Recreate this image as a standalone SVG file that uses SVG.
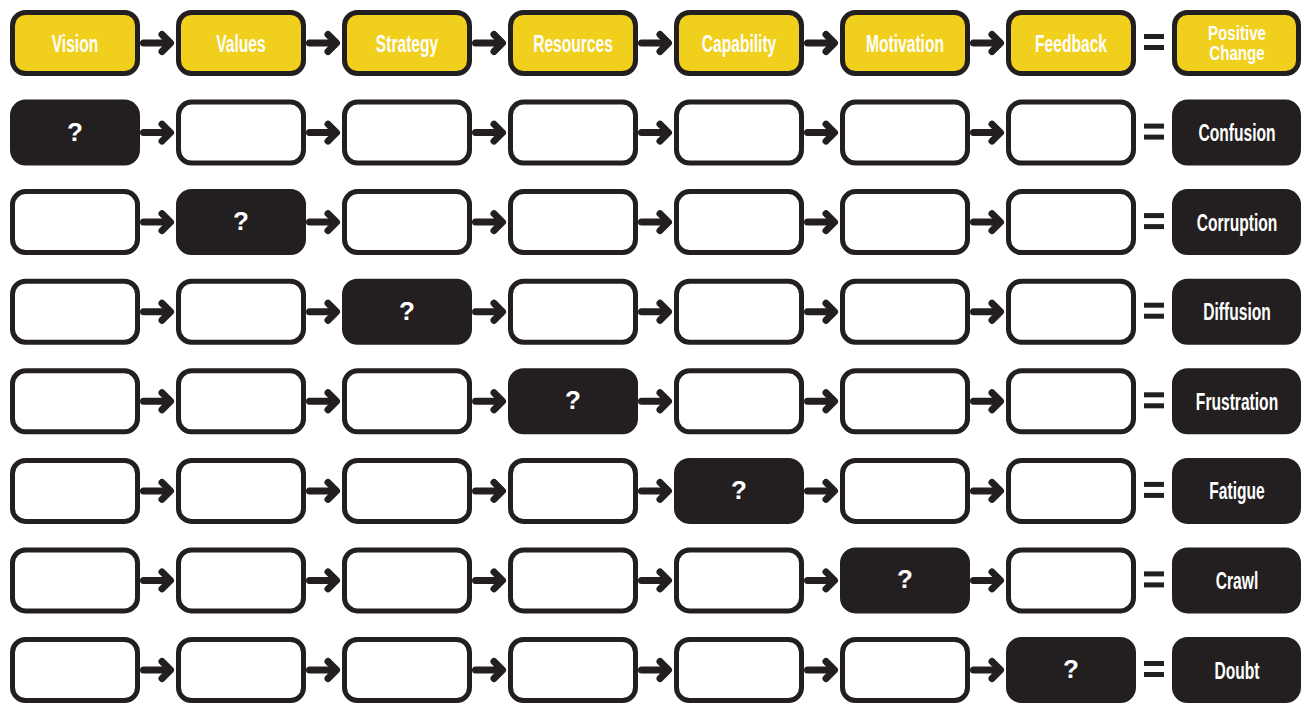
<svg xmlns="http://www.w3.org/2000/svg" xmlns:xlink="http://www.w3.org/1999/xlink" width="1301" height="703" viewBox="0 0 1301 703">
<style>
.box{fill:#fff;stroke:#231F20;stroke-width:5}
.y{fill:#F1CF1D}
.k{fill:#231F20}
.lbl{font-family:"Liberation Sans",Arial,sans-serif;font-weight:bold;font-size:24px;fill:#fff;text-anchor:middle}
.l2{font-size:21px}
.q{font-family:"Liberation Sans",Arial,sans-serif;font-weight:900;font-size:26px;fill:#fff;text-anchor:middle}
</style>
<defs>
<g id="arr" fill="none" stroke="#231F20" stroke-width="7" stroke-linecap="round" stroke-linejoin="round">
<path d="M3.5 0H28"/>
<path d="M22 -8.5L30.5 0L22 8.5"/>
</g>
<g id="eq" fill="#231F20">
<rect x="0" y="-9" width="20" height="5"/>
<rect x="0" y="2" width="20" height="5"/>
</g>
</defs>
<rect width="1301" height="703" fill="#fff"/>
<!-- Row 0 -->
<g id="row0">
<g id="n0-0" transform="translate(10,10)"><rect class="box y" x="2.5" y="2.5" width="125" height="61" rx="13"/><text class="lbl" transform="translate(65,41.5) scale(0.65,1)">Vision</text></g>
<g id="n0-1" transform="translate(176,10)"><rect class="box y" x="2.5" y="2.5" width="125" height="61" rx="13"/><text class="lbl" transform="translate(65,41.5) scale(0.65,1)">Values</text></g>
<g id="n0-2" transform="translate(342,10)"><rect class="box y" x="2.5" y="2.5" width="125" height="61" rx="13"/><text class="lbl" transform="translate(65,41.5) scale(0.65,1)">Strategy</text></g>
<g id="n0-3" transform="translate(508,10)"><rect class="box y" x="2.5" y="2.5" width="125" height="61" rx="13"/><text class="lbl" transform="translate(65,41.5) scale(0.65,1)">Resources</text></g>
<g id="n0-4" transform="translate(674,10)"><rect class="box y" x="2.5" y="2.5" width="125" height="61" rx="13"/><text class="lbl" transform="translate(65,41.5) scale(0.65,1)">Capability</text></g>
<g id="n0-5" transform="translate(840,10)"><rect class="box y" x="2.5" y="2.5" width="125" height="61" rx="13"/><text class="lbl" transform="translate(65,41.5) scale(0.65,1)">Motivation</text></g>
<g id="n0-6" transform="translate(1006,10)"><rect class="box y" x="2.5" y="2.5" width="125" height="61" rx="13"/><text class="lbl" transform="translate(65,41.5) scale(0.65,1)">Feedback</text></g>
<g id="n0-7" transform="translate(1172,10)"><rect class="box y" x="2.5" y="2.5" width="124" height="61" rx="13"/><text class="lbl l2" transform="translate(65,29.5) scale(0.72,1)">Positive</text><text class="lbl l2" transform="translate(65,50) scale(0.72,1)">Change</text></g>
</g>
<!-- Row 1 -->
<g id="row1">
<g id="n1-0" transform="translate(10,99.6)"><rect class="box k" x="2.5" y="2.5" width="125" height="61" rx="13"/><text class="q" transform="translate(65,41)">?</text></g>
<g id="n1-1" transform="translate(176,99.6)"><rect class="box" x="2.5" y="2.5" width="125" height="61" rx="13"/></g>
<g id="n1-2" transform="translate(342,99.6)"><rect class="box" x="2.5" y="2.5" width="125" height="61" rx="13"/></g>
<g id="n1-3" transform="translate(508,99.6)"><rect class="box" x="2.5" y="2.5" width="125" height="61" rx="13"/></g>
<g id="n1-4" transform="translate(674,99.6)"><rect class="box" x="2.5" y="2.5" width="125" height="61" rx="13"/></g>
<g id="n1-5" transform="translate(840,99.6)"><rect class="box" x="2.5" y="2.5" width="125" height="61" rx="13"/></g>
<g id="n1-6" transform="translate(1006,99.6)"><rect class="box" x="2.5" y="2.5" width="125" height="61" rx="13"/></g>
<g id="n1-7" transform="translate(1172,99.6)"><rect class="box k" x="2.5" y="2.5" width="124" height="61" rx="13"/><text class="lbl" transform="translate(65,41.5) scale(0.65,1)">Confusion</text></g>
</g>
<!-- Row 2 -->
<g id="row2">
<g id="n2-0" transform="translate(10,189.1)"><rect class="box" x="2.5" y="2.5" width="125" height="61" rx="13"/></g>
<g id="n2-1" transform="translate(176,189.1)"><rect class="box k" x="2.5" y="2.5" width="125" height="61" rx="13"/><text class="q" transform="translate(65,41)">?</text></g>
<g id="n2-2" transform="translate(342,189.1)"><rect class="box" x="2.5" y="2.5" width="125" height="61" rx="13"/></g>
<g id="n2-3" transform="translate(508,189.1)"><rect class="box" x="2.5" y="2.5" width="125" height="61" rx="13"/></g>
<g id="n2-4" transform="translate(674,189.1)"><rect class="box" x="2.5" y="2.5" width="125" height="61" rx="13"/></g>
<g id="n2-5" transform="translate(840,189.1)"><rect class="box" x="2.5" y="2.5" width="125" height="61" rx="13"/></g>
<g id="n2-6" transform="translate(1006,189.1)"><rect class="box" x="2.5" y="2.5" width="125" height="61" rx="13"/></g>
<g id="n2-7" transform="translate(1172,189.1)"><rect class="box k" x="2.5" y="2.5" width="124" height="61" rx="13"/><text class="lbl" transform="translate(65,41.5) scale(0.65,1)">Corruption</text></g>
</g>
<!-- Row 3 -->
<g id="row3">
<g id="n3-0" transform="translate(10,278.7)"><rect class="box" x="2.5" y="2.5" width="125" height="61" rx="13"/></g>
<g id="n3-1" transform="translate(176,278.7)"><rect class="box" x="2.5" y="2.5" width="125" height="61" rx="13"/></g>
<g id="n3-2" transform="translate(342,278.7)"><rect class="box k" x="2.5" y="2.5" width="125" height="61" rx="13"/><text class="q" transform="translate(65,41)">?</text></g>
<g id="n3-3" transform="translate(508,278.7)"><rect class="box" x="2.5" y="2.5" width="125" height="61" rx="13"/></g>
<g id="n3-4" transform="translate(674,278.7)"><rect class="box" x="2.5" y="2.5" width="125" height="61" rx="13"/></g>
<g id="n3-5" transform="translate(840,278.7)"><rect class="box" x="2.5" y="2.5" width="125" height="61" rx="13"/></g>
<g id="n3-6" transform="translate(1006,278.7)"><rect class="box" x="2.5" y="2.5" width="125" height="61" rx="13"/></g>
<g id="n3-7" transform="translate(1172,278.7)"><rect class="box k" x="2.5" y="2.5" width="124" height="61" rx="13"/><text class="lbl" transform="translate(65,41.5) scale(0.65,1)">Diffusion</text></g>
</g>
<!-- Row 4 -->
<g id="row4">
<g id="n4-0" transform="translate(10,368.3)"><rect class="box" x="2.5" y="2.5" width="125" height="61" rx="13"/></g>
<g id="n4-1" transform="translate(176,368.3)"><rect class="box" x="2.5" y="2.5" width="125" height="61" rx="13"/></g>
<g id="n4-2" transform="translate(342,368.3)"><rect class="box" x="2.5" y="2.5" width="125" height="61" rx="13"/></g>
<g id="n4-3" transform="translate(508,368.3)"><rect class="box k" x="2.5" y="2.5" width="125" height="61" rx="13"/><text class="q" transform="translate(65,41)">?</text></g>
<g id="n4-4" transform="translate(674,368.3)"><rect class="box" x="2.5" y="2.5" width="125" height="61" rx="13"/></g>
<g id="n4-5" transform="translate(840,368.3)"><rect class="box" x="2.5" y="2.5" width="125" height="61" rx="13"/></g>
<g id="n4-6" transform="translate(1006,368.3)"><rect class="box" x="2.5" y="2.5" width="125" height="61" rx="13"/></g>
<g id="n4-7" transform="translate(1172,368.3)"><rect class="box k" x="2.5" y="2.5" width="124" height="61" rx="13"/><text class="lbl" transform="translate(65,41.5) scale(0.65,1)">Frustration</text></g>
</g>
<!-- Row 5 -->
<g id="row5">
<g id="n5-0" transform="translate(10,457.9)"><rect class="box" x="2.5" y="2.5" width="125" height="61" rx="13"/></g>
<g id="n5-1" transform="translate(176,457.9)"><rect class="box" x="2.5" y="2.5" width="125" height="61" rx="13"/></g>
<g id="n5-2" transform="translate(342,457.9)"><rect class="box" x="2.5" y="2.5" width="125" height="61" rx="13"/></g>
<g id="n5-3" transform="translate(508,457.9)"><rect class="box" x="2.5" y="2.5" width="125" height="61" rx="13"/></g>
<g id="n5-4" transform="translate(674,457.9)"><rect class="box k" x="2.5" y="2.5" width="125" height="61" rx="13"/><text class="q" transform="translate(65,41)">?</text></g>
<g id="n5-5" transform="translate(840,457.9)"><rect class="box" x="2.5" y="2.5" width="125" height="61" rx="13"/></g>
<g id="n5-6" transform="translate(1006,457.9)"><rect class="box" x="2.5" y="2.5" width="125" height="61" rx="13"/></g>
<g id="n5-7" transform="translate(1172,457.9)"><rect class="box k" x="2.5" y="2.5" width="124" height="61" rx="13"/><text class="lbl" transform="translate(65,41.5) scale(0.65,1)">Fatigue</text></g>
</g>
<!-- Row 6 -->
<g id="row6">
<g id="n6-0" transform="translate(10,547.4)"><rect class="box" x="2.5" y="2.5" width="125" height="61" rx="13"/></g>
<g id="n6-1" transform="translate(176,547.4)"><rect class="box" x="2.5" y="2.5" width="125" height="61" rx="13"/></g>
<g id="n6-2" transform="translate(342,547.4)"><rect class="box" x="2.5" y="2.5" width="125" height="61" rx="13"/></g>
<g id="n6-3" transform="translate(508,547.4)"><rect class="box" x="2.5" y="2.5" width="125" height="61" rx="13"/></g>
<g id="n6-4" transform="translate(674,547.4)"><rect class="box" x="2.5" y="2.5" width="125" height="61" rx="13"/></g>
<g id="n6-5" transform="translate(840,547.4)"><rect class="box k" x="2.5" y="2.5" width="125" height="61" rx="13"/><text class="q" transform="translate(65,41)">?</text></g>
<g id="n6-6" transform="translate(1006,547.4)"><rect class="box" x="2.5" y="2.5" width="125" height="61" rx="13"/></g>
<g id="n6-7" transform="translate(1172,547.4)"><rect class="box k" x="2.5" y="2.5" width="124" height="61" rx="13"/><text class="lbl" transform="translate(65,41.5) scale(0.65,1)">Crawl</text></g>
</g>
<!-- Row 7 -->
<g id="row7">
<g id="n7-0" transform="translate(10,637)"><rect class="box" x="2.5" y="2.5" width="125" height="61" rx="13"/></g>
<g id="n7-1" transform="translate(176,637)"><rect class="box" x="2.5" y="2.5" width="125" height="61" rx="13"/></g>
<g id="n7-2" transform="translate(342,637)"><rect class="box" x="2.5" y="2.5" width="125" height="61" rx="13"/></g>
<g id="n7-3" transform="translate(508,637)"><rect class="box" x="2.5" y="2.5" width="125" height="61" rx="13"/></g>
<g id="n7-4" transform="translate(674,637)"><rect class="box" x="2.5" y="2.5" width="125" height="61" rx="13"/></g>
<g id="n7-5" transform="translate(840,637)"><rect class="box" x="2.5" y="2.5" width="125" height="61" rx="13"/></g>
<g id="n7-6" transform="translate(1006,637)"><rect class="box k" x="2.5" y="2.5" width="125" height="61" rx="13"/><text class="q" transform="translate(65,41)">?</text></g>
<g id="n7-7" transform="translate(1172,637)"><rect class="box k" x="2.5" y="2.5" width="124" height="61" rx="13"/><text class="lbl" transform="translate(65,41.5) scale(0.65,1)">Doubt</text></g>
</g>
<g id="connectors">
<g id="c-row0" transform="translate(0,43)"><use href="#arr" x="140"/><use href="#arr" x="306"/><use href="#arr" x="472"/><use href="#arr" x="638"/><use href="#arr" x="804"/><use href="#arr" x="970"/><use href="#eq" x="1144"/></g>
<g id="c-row1" transform="translate(0,132.6)"><use href="#arr" x="140"/><use href="#arr" x="306"/><use href="#arr" x="472"/><use href="#arr" x="638"/><use href="#arr" x="804"/><use href="#arr" x="970"/><use href="#eq" x="1144"/></g>
<g id="c-row2" transform="translate(0,222.1)"><use href="#arr" x="140"/><use href="#arr" x="306"/><use href="#arr" x="472"/><use href="#arr" x="638"/><use href="#arr" x="804"/><use href="#arr" x="970"/><use href="#eq" x="1144"/></g>
<g id="c-row3" transform="translate(0,311.7)"><use href="#arr" x="140"/><use href="#arr" x="306"/><use href="#arr" x="472"/><use href="#arr" x="638"/><use href="#arr" x="804"/><use href="#arr" x="970"/><use href="#eq" x="1144"/></g>
<g id="c-row4" transform="translate(0,401.3)"><use href="#arr" x="140"/><use href="#arr" x="306"/><use href="#arr" x="472"/><use href="#arr" x="638"/><use href="#arr" x="804"/><use href="#arr" x="970"/><use href="#eq" x="1144"/></g>
<g id="c-row5" transform="translate(0,490.9)"><use href="#arr" x="140"/><use href="#arr" x="306"/><use href="#arr" x="472"/><use href="#arr" x="638"/><use href="#arr" x="804"/><use href="#arr" x="970"/><use href="#eq" x="1144"/></g>
<g id="c-row6" transform="translate(0,580.4)"><use href="#arr" x="140"/><use href="#arr" x="306"/><use href="#arr" x="472"/><use href="#arr" x="638"/><use href="#arr" x="804"/><use href="#arr" x="970"/><use href="#eq" x="1144"/></g>
<g id="c-row7" transform="translate(0,670)"><use href="#arr" x="140"/><use href="#arr" x="306"/><use href="#arr" x="472"/><use href="#arr" x="638"/><use href="#arr" x="804"/><use href="#arr" x="970"/><use href="#eq" x="1144"/></g>
</g>
</svg>
